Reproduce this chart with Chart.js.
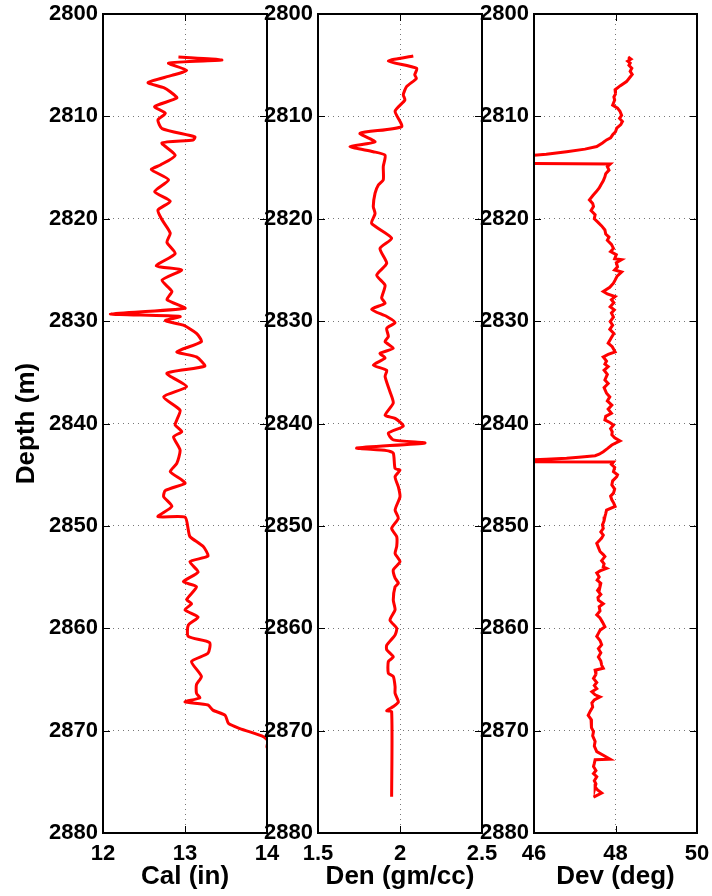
<!DOCTYPE html>
<html>
<head>
<meta charset="utf-8">
<script src="https://cdn.jsdelivr.net/npm/chart.js@4"></script>
<style>
  body { margin: 0; background: #fff; }
  #wrap { position: relative; width: 712px; height: 896px; }
  #wrap canvas { position: absolute; left: 0; top: 0; }
</style>
</head>
<body>
<div id="wrap">
  <canvas id="calChart" width="712" height="896"></canvas>
  <canvas id="denChart" width="712" height="896"></canvas>
  <canvas id="devChart" width="712" height="896"></canvas>
</div>
<script>
// depth axis
const depthTicks = [2800, 2810, 2820, 2830, 2840, 2850, 2860, 2870, 2880];

// caliper log
const calTicks = [12, 13, 14];
const calDepth = [2804.2, 2804.5, 2804.8, 2805.5, 2806.0, 2806.7, 2807.2, 2807.6, 2808.2, 2809.05,
  2809.7, 2810.35, 2811.2, 2812.0, 2812.3, 2812.6, 2813.8, 2814.75, 2815.2, 2816.2,
  2817.35, 2818.3, 2819.15, 2820.1, 2821.4, 2822.3, 2823.4, 2824.6, 2825.0, 2826.0,
  2827.1, 2827.9, 2828.75, 2829.3, 2829.55, 2829.95, 2830.4, 2831.2, 2832.0, 2833.0,
  2833.5, 2834.4, 2835.1, 2836.4, 2837.4, 2838.7, 2839.65, 2840.15, 2840.8, 2841.3,
  2842.6, 2843.9, 2844.7, 2845.5, 2845.85, 2846.55, 2847.15, 2848.1, 2849.1, 2849.15,
  2850.4, 2851.05, 2852.0, 2852.95, 2853.5, 2854.5, 2855.45, 2855.95, 2857.2, 2857.6,
  2858.2, 2858.9, 2859.7, 2860.8, 2861.4, 2862.45, 2863.25, 2864.7, 2865.5, 2866.35,
  2866.8, 2867.2, 2867.5, 2868.0, 2868.5, 2869.3, 2869.8, 2870.6, 2871.0, 2871.6, 2872.0];
const calValue = [12.92, 13.45, 12.80, 13.02, 12.84, 12.55, 12.74, 12.82, 12.90, 12.63,
  12.76, 12.67, 12.72, 13.12, 13.10, 12.72, 12.88, 12.70, 12.59, 12.80,
  12.63, 12.82, 12.67, 12.72, 12.82, 12.78, 12.88, 12.65, 12.96, 12.72,
  12.84, 12.78, 13.00, 12.09, 12.94, 12.76, 12.98, 13.14, 13.20, 12.90,
  13.14, 13.24, 12.78, 13.02, 12.74, 12.94, 12.90, 12.88, 12.96, 12.86,
  12.94, 12.90, 12.82, 12.96, 13.00, 12.76, 12.74, 12.84, 12.67, 13.00,
  13.04, 13.06, 13.22, 13.28, 13.06, 13.16, 12.98, 13.14, 13.02, 13.08,
  13.00, 13.16, 13.04, 13.04, 13.30, 13.28, 13.08, 13.20, 13.14, 13.14,
  13.18, 13.00, 13.28, 13.34, 13.49, 13.53, 13.67, 13.96, 14.01, 14.00, 14.03];

// density log
const denTicks = [1.5, 2, 2.5];
const denDepth = [2804.1, 2804.6, 2805.3, 2805.95, 2806.3, 2807.1, 2807.9, 2808.4, 2809.5, 2811.0,
  2811.65, 2812.5, 2812.95, 2813.45, 2813.8, 2814.9, 2816.2, 2816.7, 2817.5, 2818.8,
  2819.5, 2820.45, 2821.9, 2822.9, 2824.35, 2825.5, 2826.5, 2827.75, 2828.25, 2828.85,
  2829.55, 2830.15, 2830.7, 2831.5, 2832.0, 2832.65, 2833.15, 2833.6, 2834.3, 2834.8,
  2835.4, 2836.9, 2838.0, 2839.2, 2839.5, 2840.25, 2840.95, 2841.6, 2841.9, 2842.4,
  2842.65, 2842.9, 2844.4, 2844.55, 2845.2, 2846.2, 2847.15, 2848.45, 2849.25, 2850.25,
  2851.05, 2852.0, 2852.7, 2853.5, 2854.3, 2855.1, 2855.6, 2855.95, 2857.25, 2858.2,
  2859.2, 2860.0, 2860.65, 2861.65, 2862.1, 2862.8, 2863.25, 2864.4, 2864.7, 2865.7,
  2866.35, 2867.2, 2867.65, 2868.05, 2868.15, 2876.45];
const denValue = [2.081, 1.929, 2.102, 2.090, 2.100, 2.040, 2.020, 2.030, 1.970, 2.010,
  1.756, 1.848, 1.695, 1.837, 1.909, 1.898, 1.898, 1.868, 1.848, 1.837,
  1.848, 1.827, 1.949, 1.878, 1.919, 1.858, 1.909, 1.888, 1.909, 1.827,
  1.919, 1.970, 1.919, 1.929, 1.909, 1.959, 1.878, 1.909, 1.837, 1.919,
  1.909, 1.939, 1.959, 1.909, 1.970, 2.020, 1.929, 1.959, 2.152, 1.736,
  1.919, 1.959, 1.970, 2.000, 1.970, 1.990, 2.000, 1.970, 1.990, 1.949,
  1.980, 1.980, 1.970, 2.000, 1.959, 1.970, 1.990, 1.970, 1.959, 1.970,
  1.939, 1.980, 1.970, 1.919, 1.919, 1.959, 1.929, 1.929, 1.959, 1.970,
  1.970, 1.990, 1.959, 1.919, 1.949, 1.949];

// deviation log
const devTicks = [46, 48, 50];
const devDepth = [2804.2, 2804.4, 2804.6, 2804.8, 2805.0, 2805.3, 2805.6, 2805.9, 2806.2, 2806.6,
  2807.0, 2807.4, 2807.8, 2808.1, 2808.4, 2808.9, 2809.2, 2809.5, 2809.9, 2810.2,
  2810.5, 2810.8, 2811.15, 2811.5, 2811.8, 2812.1, 2812.3, 2812.6, 2812.95, 2813.2,
  2813.45, 2813.7, 2813.95, 2814.2, 2814.55, 2814.65, 2814.9, 2815.25, 2815.6, 2815.9,
  2816.3, 2816.7, 2817.0, 2817.35, 2817.7, 2818.15, 2818.5, 2818.8, 2819.2, 2819.6,
  2820.0, 2820.3, 2820.7, 2821.1, 2821.5, 2821.8, 2822.1, 2822.5, 2822.9, 2823.2,
  2823.5, 2823.9, 2824.0, 2824.3, 2824.7, 2825.0, 2825.2, 2825.6, 2826.0, 2826.3,
  2826.7, 2827.1, 2827.35, 2827.6, 2827.9, 2828.2, 2828.6, 2828.9, 2829.2, 2829.6,
  2830.05, 2830.4, 2830.8, 2831.2, 2831.6, 2832.15, 2832.5, 2833.0, 2833.25, 2833.5,
  2833.9, 2834.2, 2834.45, 2834.8, 2835.2, 2835.75, 2836.1, 2836.5, 2837.05, 2837.4,
  2837.8, 2838.2, 2838.6, 2839.0, 2839.3, 2839.65, 2839.9, 2840.15, 2840.5, 2840.8,
  2841.1, 2841.4, 2841.7, 2842.1, 2842.45, 2842.75, 2843.0, 2843.15, 2843.3, 2843.4,
  2843.5, 2843.6, 2843.65, 2843.7, 2843.75, 2844.0, 2844.3, 2844.7, 2845.0, 2845.2,
  2845.6, 2846.0, 2846.4, 2846.8, 2847.1, 2847.45, 2847.8, 2848.1, 2848.45, 2848.8,
  2849.1, 2849.5, 2849.9, 2850.25, 2850.6, 2850.9, 2851.2, 2851.45, 2851.7, 2852.1,
  2852.5, 2852.8, 2853.0, 2853.4, 2853.7, 2854.0, 2854.15, 2854.4, 2854.6, 2855.0,
  2855.3, 2855.6, 2855.95, 2856.3, 2856.7, 2857.0, 2857.25, 2857.6, 2857.9, 2858.3,
  2858.7, 2859.0, 2859.4, 2859.85, 2860.2, 2860.5, 2860.8, 2861.2, 2861.6, 2862.0,
  2862.4, 2862.8, 2863.2, 2863.6, 2863.9, 2864.1, 2864.5, 2864.9, 2865.3, 2865.6,
  2865.9, 2866.2, 2866.5, 2866.7, 2867.0, 2867.3, 2867.7, 2868.1, 2868.5, 2868.9,
  2869.3, 2869.7, 2870.1, 2870.5, 2871.05, 2871.5, 2872.05, 2872.4, 2872.8, 2872.85,
  2873.2, 2873.5, 2873.9, 2874.2, 2874.5, 2874.9, 2875.2, 2875.5, 2875.8, 2876.1, 2876.5];
const devValue = [48.31, 48.38, 48.30, 48.36, 48.33, 48.40, 48.36, 48.41, 48.35, 48.27,
  48.12, 47.99, 48.00, 47.96, 47.98, 47.93, 48.05, 48.11, 48.15, 48.10,
  48.17, 48.13, 48.03, 48.00, 47.93, 47.88, 47.78, 47.68, 47.54, 47.25,
  46.80, 46.30, 45.60, 44.50, 44.00, 47.87, 47.80, 47.84, 47.76, 47.74,
  47.70, 47.64, 47.60, 47.53, 47.45, 47.36, 47.44, 47.46, 47.40, 47.50,
  47.48, 47.56, 47.66, 47.74, 47.76, 47.84, 47.80, 47.90, 47.95, 47.88,
  48.02, 47.98, 48.15, 48.02, 48.05, 47.98, 48.15, 48.04, 47.99, 47.95,
  47.86, 47.70, 47.80, 47.99, 47.90, 47.96, 47.87, 47.97, 47.90, 47.95,
  47.87, 47.93, 47.86, 47.96, 47.90, 47.82, 47.92, 47.99, 47.82, 47.70,
  47.78, 47.74, 47.82, 47.72, 47.80, 47.74, 47.82, 47.72, 47.78, 47.86,
  47.80, 47.91, 47.82, 47.90, 47.76, 47.74, 47.86, 47.95, 47.88, 47.92,
  47.91, 47.98, 48.11, 47.91, 47.80, 47.70, 47.60, 47.50, 47.10, 46.80,
  46.30, 45.50, 44.00, 44.00, 47.95, 47.90, 47.98, 47.95, 48.05, 48.03,
  47.93, 47.91, 47.98, 47.95, 47.88, 47.91, 47.96, 47.99, 47.78, 47.76,
  47.74, 47.72, 47.68, 47.70, 47.64, 47.70, 47.66, 47.60, 47.54, 47.58,
  47.62, 47.70, 47.74, 47.66, 47.72, 47.70, 47.78, 47.62, 47.54, 47.60,
  47.55, 47.64, 47.62, 47.56, 47.64, 47.57, 47.58, 47.70, 47.60, 47.62,
  47.54, 47.62, 47.68, 47.74, 47.62, 47.58, 47.54, 47.62, 47.66, 47.58,
  47.64, 47.58, 47.64, 47.66, 47.70, 47.50, 47.52, 47.46, 47.54, 47.48,
  47.54, 47.42, 47.50, 47.62, 47.48, 47.42, 47.44, 47.38, 47.33, 47.40,
  47.42, 47.40, 47.46, 47.44, 47.50, 47.48, 47.54, 47.70, 47.87, 47.50,
  47.48, 47.46, 47.52, 47.46, 47.54, 47.48, 47.52, 47.50, 47.56, 47.66, 47.46];

const FONT = "'Liberation Sans', Arial, Helvetica, sans-serif";
const TICK_FONT = { family: FONT, size: 22, weight: "bold" };
const TITLE_FONT = { family: FONT, size: 26, weight: "bold" };

// box around the plot area plus short inward tick marks on every side
const framePlugin = {
  id: "frame",
  afterDraw(chart) {
    const { ctx, chartArea: a, scales } = chart;
    const tl = 7;
    ctx.save();
    ctx.strokeStyle = "#000";
    ctx.lineWidth = 1;
    ctx.beginPath();
    scales.y.ticks.forEach(t => {
      const py = Math.round(scales.y.getPixelForValue(t.value)) + 0.5;
      ctx.moveTo(a.left, py); ctx.lineTo(a.left + tl, py);
      ctx.moveTo(a.right, py); ctx.lineTo(a.right - tl, py);
    });
    scales.x.ticks.forEach(t => {
      const px = Math.round(scales.x.getPixelForValue(t.value)) + 0.5;
      ctx.moveTo(px, a.bottom); ctx.lineTo(px, a.bottom - tl);
      ctx.moveTo(px, a.top); ctx.lineTo(px, a.top + tl);
    });
    ctx.stroke();
    ctx.lineWidth = 2;
    ctx.strokeRect(a.left, a.top, a.right - a.left, a.bottom - a.top);
    ctx.restore();
  }
};

function makeTrack(id, depths, values, xTicks, xTitle, box, yTitle) {
  const points = depths.map((d, i) => ({ x: values[i], y: d }));
  return new Chart(document.getElementById(id), {
    type: "scatter",
    data: {
      datasets: [{
        data: points,
        showLine: true,
        borderColor: "#ff0000",
        borderWidth: 3,
        pointRadius: 0,
        tension: box.tension,
        fill: false
      }]
    },
    options: {
      responsive: false,
      devicePixelRatio: 1,
      animation: false,
      layout: { padding: { left: box.left - box.axisW, right: 712 - box.right, top: 14, bottom: 0 } },
      plugins: { legend: { display: false }, tooltip: { enabled: false } },
      scales: {
        x: {
          type: "linear",
          position: "bottom",
          min: xTicks[0],
          max: xTicks[xTicks.length - 1],
          afterBuildTicks: s => { s.ticks = xTicks.map(v => ({ value: v })); },
          // fixed axis size so the tracks line up; edge labels may spill over
          afterFit: s => { s.height = 63; s.paddingLeft = 0; s.paddingRight = 0; },
          ticks: { autoSkip: false, maxRotation: 0, padding: 8, color: "#000", font: TICK_FONT, callback: v => String(v) },
          grid: { color: "#777", lineWidth: 1, drawTicks: false },
          border: { display: false, dash: [1, 4] },
          title: { display: true, text: xTitle, color: "#000", font: TITLE_FONT, padding: { top: 0, bottom: 4 } }
        },
        y: {
          type: "linear",
          position: "left",
          reverse: true,
          min: depthTicks[0],
          max: depthTicks[depthTicks.length - 1],
          afterBuildTicks: s => { s.ticks = depthTicks.map(v => ({ value: v })); },
          afterFit: s => { s.width = box.axisW; s.paddingTop = 0; s.paddingBottom = 0; },
          ticks: { autoSkip: false, padding: 5, color: "#000", font: TICK_FONT, callback: v => String(v) },
          grid: { color: "#777", lineWidth: 1, drawTicks: false },
          border: { display: false, dash: [1, 4] },
          title: { display: !!yTitle, text: yTitle || "", color: "#000", font: TITLE_FONT, padding: { top: 11, bottom: 0 } }
        }
      }
    },
    plugins: [framePlugin]
  });
}

makeTrack("calChart", calDepth, calValue, calTicks, "Cal (in)", { left: 103, right: 267, axisW: 103, tension: 0.2 }, "Depth (m)");
makeTrack("denChart", denDepth, denValue, denTicks, "Den (gm/cc)", { left: 318, right: 482, axisW: 60, tension: 0.2 });
makeTrack("devChart", devDepth, devValue, devTicks, "Dev (deg)", { left: 534, right: 697, axisW: 60, tension: 0 });
</script>
</body>
</html>
